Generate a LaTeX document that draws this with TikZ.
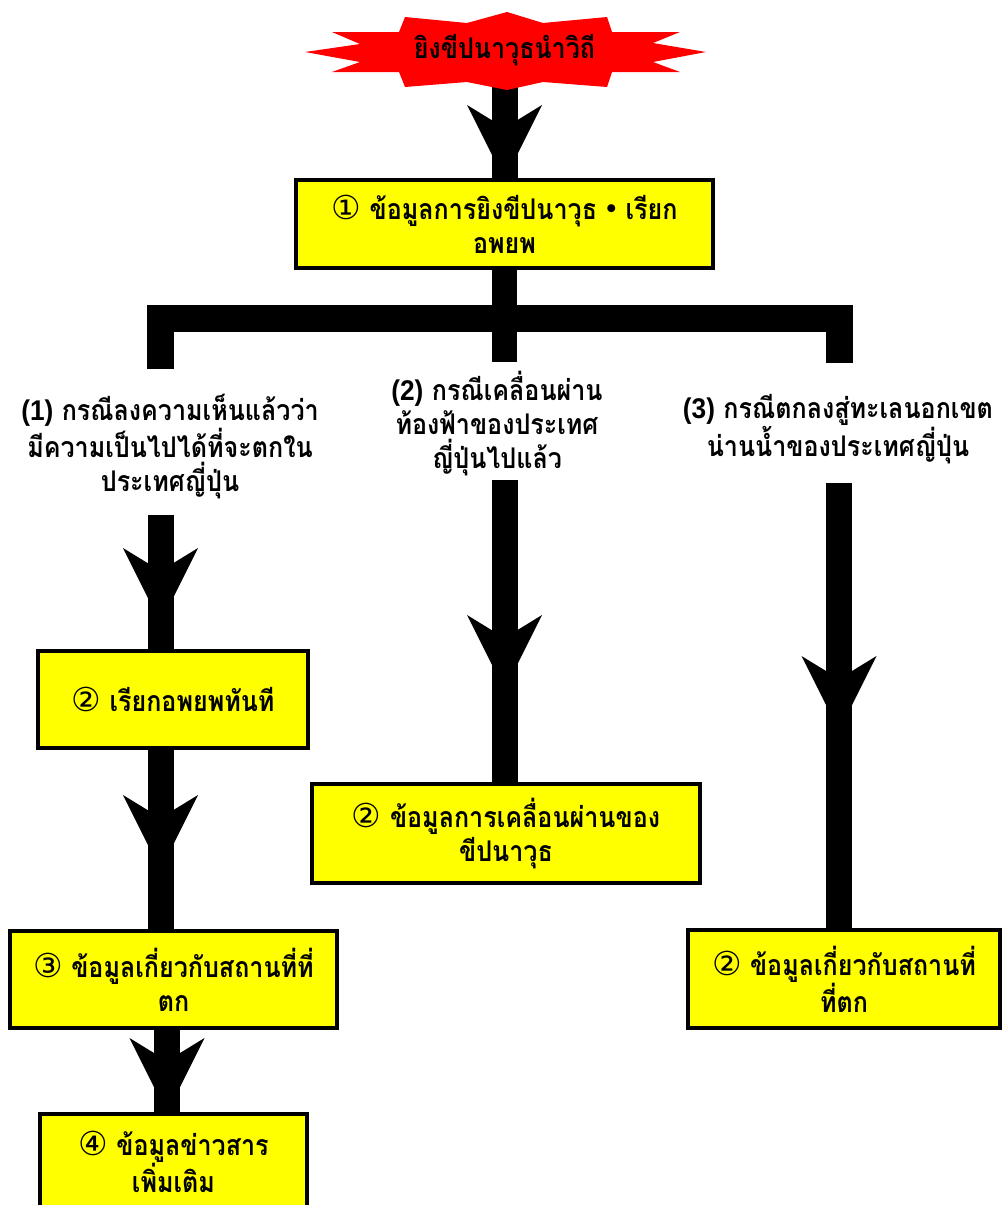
\documentclass[tikz,border=0pt]{standalone}
\usepackage{fontspec}
\setmainfont{Liberation Sans}
\newfontfamily\thaifont[Script=Thai, FakeStretch=0.88]{Loma}
\newfontfamily\latfont[FakeStretch=0.92]{Liberation Sans}
\newfontfamily\symfont{DejaVu Sans}
\newfontfamily\cjkfont{Noto Sans CJK JP}
\usetikzlibrary{decorations.markings,backgrounds,shadows}
\newcommand{\cn}[1]{{\symfont\mdseries\fontsize{33}{34}\selectfont #1}}
\newcommand{\lt}[1]{{\latfont\bfseries #1}}
\newcommand{\kdot}{{\cjkfont\bfseries ・}}
\definecolor{boxyellow}{HTML}{FFFF00}
\definecolor{starred}{HTML}{FF0000}
\tikzset{
  txt/.style={font=\thaifont\bfseries\fontsize{28.5}{34}\selectfont, align=center, inner sep=0pt, outer sep=0pt},
  infobox/.style={txt, draw=black, line width=3.5pt, fill=boxyellow,
    drop shadow={shadow xshift=2pt, shadow yshift=-2pt, opacity=.35}},
  trunk/.style={line width=27pt, line join=miter, line cap=butt},
  conn/.style={line width=26pt, line cap=butt, postaction={decorate},
    decoration={markings, mark=at position #1 with {
      \fill[black] (0pt,0pt) -- (-75pt,37.5pt) -- (-60pt,13pt) -- (-60pt,-13pt) -- (-75pt,-37.5pt) -- cycle;}}}
}
\begin{document}
\begin{tikzpicture}[x=1pt,y=-1pt]
\useasboundingbox (0,0) rectangle (1003,1205);
% star burst
\fill[starred] (305,52) -- (360,44) -- (332,32) -- (399,32) -- (405,17) -- (467,23) -- (507,12) -- (543,23)
  -- (607,17) -- (612,32) -- (680,32) -- (653,43) -- (706,52) -- (653,62) -- (680,72) -- (612,72)
  -- (607,87) -- (543,82) -- (507,90) -- (467,82) -- (405,87) -- (399,72) -- (332,72) -- (360,62) -- cycle;
\node[txt, minimum height=68pt] (star) at (504.5,50) {ยิงขีปนาวุธนำวิถี};

% boxes
\node[infobox, minimum width=417pt, minimum height=88pt] (b1) at (504.5,224)
  {\cn{①} ข้อมูลการยิงขีปนาวุธ\kdot เรียก\\อพยพ};
\node[infobox, minimum width=270pt, minimum height=97pt] (b2) at (173,699.5)
  {\cn{②} เรียกอพยพทันที};
\node[infobox, minimum width=327pt, minimum height=97pt] (b3) at (173.5,979.5)
  {\cn{③} ข้อมูลเกี่ยวกับสถานที่ที่\\ตก};
\node[infobox, minimum width=267pt, minimum height=96pt] (b4) at (173.5,1162)
  {\cn{④} ข้อมูลข่าวสาร\\เพิ่มเติม};
\node[infobox, minimum width=388pt, minimum height=99pt] (b5) at (506,833.5)
  {\cn{②} ข้อมูลการเคลื่อนผ่านของ\\ขีปนาวุธ};
\node[infobox, minimum width=312pt, minimum height=98pt] (b6) at (844,979)
  {\cn{②} ข้อมูลเกี่ยวกับสถานที่\\ที่ตก};

% case labels
\node[txt] (l1) at (170,446.5) {\lt{(1)} กรณีลงความเห็นแล้วว่า\\มีความเป็นไปได้ที่จะตกใน\\ประเทศญี่ปุ่น};
\node[txt] (l2) at (497,424) {\lt{(2)} กรณีเคลื่อนผ่าน\\ท้องฟ้าของประเทศ\\ญี่ปุ่นไปแล้ว};
\node[txt] (l3) at (838,429) {\lt{(3)} กรณีตกลงสู่ทะเลนอกเขต\\น่านน้ำของประเทศญี่ปุ่น};

% junction coordinates
\coordinate (jL) at (160.5,318.5);
\coordinate (jC) at (504.5,318.5);
\coordinate (jR) at (839,318.5);
\coordinate (dL) at (160.5,369);
\coordinate (dC) at (504.5,362);
\coordinate (dR) at (839,363);
\coordinate (s1) at (160.5,515);
\coordinate (s2) at (504.5,480);
\coordinate (s3) at (839,483);
\coordinate (e4) at (167,1113);

\begin{scope}[on background layer]
  \draw[trunk] (dL) -- (jL) -- (jR) -- (dR);
  \draw[trunk, line width=25pt] (b1.south) -- (dC);
  \draw[conn=1] (star.south) -- (b1.north);
  \draw[conn=108pt] (s1) -- (b2.north -| s1);
  \draw[conn=122pt] (b2.south -| s1) -- (b3.north -| s1);
  \draw[conn=1] (b3.south -| e4) -- (e4);
  \draw[conn=210pt] (s2) -- (b5.north -| s2);
  \draw[conn=248pt] (s3) -- (b6.north -| s3);
\end{scope}
\end{tikzpicture}
\end{document}
